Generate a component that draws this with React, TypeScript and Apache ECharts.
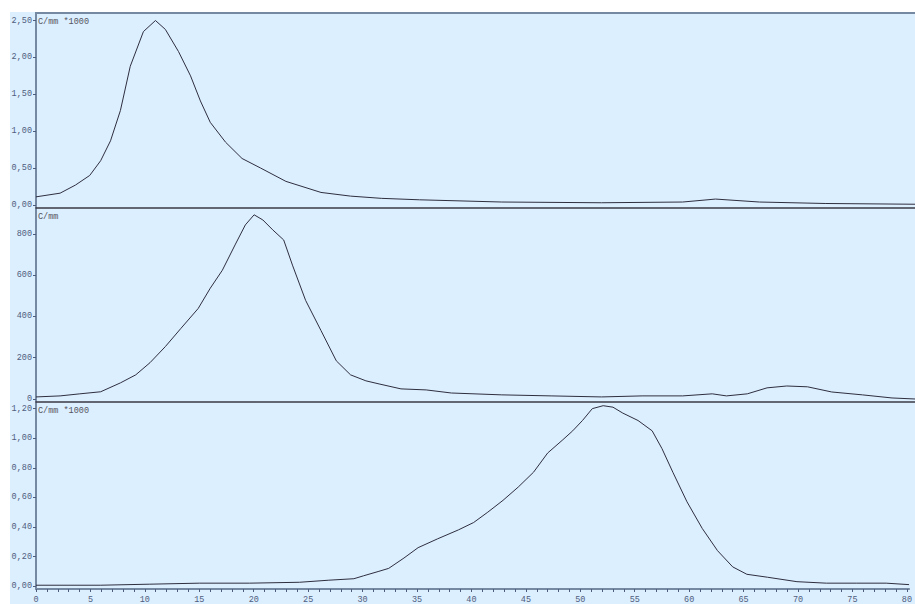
import React, { useEffect, useRef } from "react";
import * as echarts from "echarts";

// Panel 1 (C/mm *1000)
const x1 = [0, 2.2, 3.6, 4.9, 5.9, 6.8, 7.7, 8.6, 9.8, 10.9, 11.8, 13, 14.1, 15, 15.9, 17.3, 18.8, 20.5, 22.8, 26, 28.7, 31.5, 35, 42.5, 51.6, 59, 62, 66, 72, 80.2];
const y1 = [0.11, 0.16, 0.27, 0.4, 0.6, 0.87, 1.28, 1.88, 2.35, 2.5, 2.38, 2.08, 1.75, 1.41, 1.12, 0.85, 0.63, 0.5, 0.32, 0.17, 0.12, 0.09, 0.07, 0.04, 0.03, 0.04, 0.08, 0.04, 0.02, 0.01];

// Panel 2 (C/mm)
const x2 = [0, 2.2, 4, 5.9, 7.7, 9.1, 10.4, 11.8, 13.2, 14.8, 15.9, 17, 18.2, 19.1, 19.9, 20.7, 21.6, 22.6, 23.4, 24.6, 26, 27.4, 28.7, 30.1, 31.3, 33.3, 35.6, 37.9, 42.5, 47, 51.6, 55.3, 59, 61.7, 63, 64.9, 66.7, 68.5, 70.4, 72.6, 75.4, 78.1, 80.2];
const y2 = [10, 15, 25, 35, 78, 117, 176, 254, 341, 439, 537, 624, 751, 844, 893, 868, 820, 771, 649, 478, 332, 185, 117, 88, 73, 49, 44, 29, 20, 15, 10, 15, 15, 25, 15, 25, 54, 63, 59, 34, 20, 5, 0];

// Panel 3 (C/mm *1000)
const x3 = [0, 5.9, 10.4, 15, 19.6, 24.2, 26.9, 29.2, 30.1, 31.5, 32.4, 33.8, 35.1, 36.9, 38.8, 40.2, 41.5, 42.9, 44.3, 45.7, 47, 48.4, 49.3, 50.2, 51.1, 52.1, 53, 53.9, 55.3, 56.6, 57.5, 58.5, 59.8, 61.2, 62.6, 64, 65.3, 67.2, 69.9, 72.6, 75.4, 78.1, 80.2];
const y3 = [0.006, 0.006, 0.013, 0.02, 0.02, 0.026, 0.04, 0.05, 0.07, 0.1, 0.12, 0.19, 0.26, 0.32, 0.38, 0.43, 0.5, 0.58, 0.67, 0.77, 0.9, 0.99, 1.05, 1.12, 1.2, 1.22, 1.21, 1.17, 1.12, 1.05, 0.93, 0.77, 0.57, 0.39, 0.24, 0.13, 0.08, 0.06, 0.03, 0.02, 0.02, 0.02, 0.01];

const yTicks1 = [0, 0.5, 1, 1.5, 2, 2.5];
const yTicks2 = [0, 200, 400, 600, 800];
const yTicks3 = [0, 0.2, 0.4, 0.6, 0.8, 1, 1.2];
const xLabels = [0, 5, 10, 15, 20, 25, 30, 35, 40, 45, 50, 55, 60, 65, 70, 75, 80];
const xTicks = Array.from({ length: 81 }, (_, i) => i);

const unitLabels = ["C/mm *1000", "C/mm", "C/mm *1000"];

const AXIS = "#7689a3";
const LABEL = "#4f5d7d";
const CURVE = "#2e2e3e";
const FONT = "Liberation Mono";

const zip = (xs: number[], ys: number[]) => xs.map((x, i) => [x, ys[i]]);
const comma = (v: number) => v.toFixed(2).replace(".", ",");

export default function App() {
  const ref = useRef<HTMLDivElement>(null);
  useEffect(() => {
    const chart = echarts.init(ref.current!, null, { renderer: "svg" });
    const grids = [
      { left: 36, right: 0, top: 13, height: 195 },
      { left: 36, right: 0, top: 208, height: 194 },
      { left: 36, right: 0, top: 402, height: 195 },
    ];
    const yRanges = [
      { min: -0.041, max: 2.602, ticks: yTicks1, fmt: comma },
      { min: -14.6, max: 926, ticks: yTicks2, fmt: (v: number) => String(Math.round(v)) },
      { min: -0.0195, max: 1.245, ticks: yTicks3, fmt: comma },
    ];
    const datasets = [zip(x1, y1), zip(x2, y2), zip(x3, y3)];
    const unitTops = [17, 212, 406];
    chart.setOption({
      animation: false,
      backgroundColor: "#ffffff",
      grid: grids,
      xAxis: grids.map((_, i) => ({
        type: "value",
        gridIndex: i,
        min: 0,
        max: 80.2,
        splitLine: { show: false },
        axisLine: {
          show: true,
          onZero: false,
          lineStyle: { color: i < 2 ? "#3a3a44" : AXIS, width: i < 2 ? 1.5 : 2 },
        },
        axisTick: i < 2
          ? { show: false }
          : { show: true, length: 3, customValues: xTicks, lineStyle: { color: LABEL } },
        axisLabel: i < 2
          ? { show: false }
          : {
              show: true,
              customValues: xLabels,
              margin: 6,
              fontFamily: FONT,
              fontSize: 8.5,
              color: LABEL,
            },
      })),
      yAxis: grids.map((_, i) => ({
        type: "value",
        gridIndex: i,
        min: yRanges[i].min,
        max: yRanges[i].max,
        splitLine: { show: false },
        axisLine: { show: true, onZero: false, lineStyle: { color: AXIS, width: 2 } },
        axisTick: { show: true, length: 3, customValues: yRanges[i].ticks, lineStyle: { color: LABEL } },
        axisLabel: {
          show: true,
          customValues: yRanges[i].ticks,
          margin: 4,
          fontFamily: FONT,
          fontSize: 8.5,
          color: LABEL,
          formatter: (v: number) => yRanges[i].fmt(v),
        },
      })),
      series: datasets.map((d, i) => ({
        type: "line",
        xAxisIndex: i,
        yAxisIndex: i,
        data: d,
        showSymbol: false,
        symbol: "none",
        lineStyle: { color: CURVE, width: 1 },
      })),
      graphic: [
        {
          type: "rect",
          z: -10,
          silent: true,
          shape: { x: 10, y: 12, width: 905, height: 592 },
          style: { fill: "#dcefff" },
        },
        {
          type: "line",
          z: 10,
          shape: { x1: 35, y1: 13, x2: 915, y2: 13 },
          style: { stroke: AXIS, lineWidth: 2 },
        },
        ...unitLabels.map((t, i) => ({
          type: "text",
          z: 10,
          x: 38,
          y: unitTops[i],
          style: { text: t, fill: "#555560", font: `8.5px ${FONT}` },
        })),
      ],
    });
    return () => chart.dispose();
  }, []);
  return (
    <div
      ref={ref}
      style={{ position: "fixed", left: 0, top: 0, width: 915, height: 604 }}
    />
  );
}
